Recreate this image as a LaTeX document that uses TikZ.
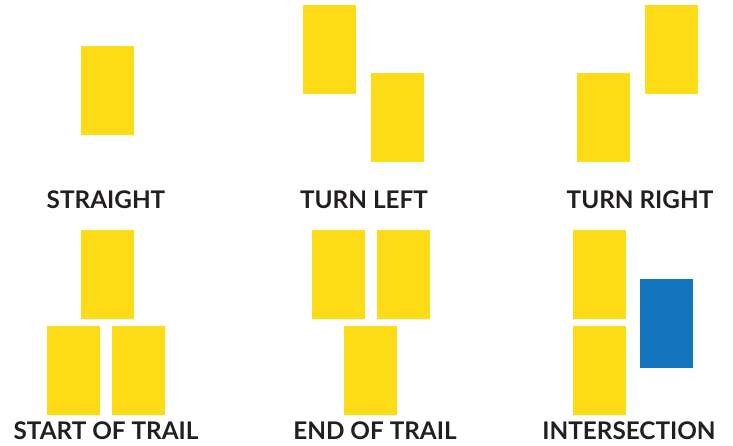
\documentclass[tikz,border=0pt]{standalone}
\usepackage{fontspec}
\setmainfont{Lato}
\definecolor{trailyellow}{HTML}{FDDC17}
\definecolor{trailblue}{HTML}{1174BC}
\definecolor{labelgray}{HTML}{231F20}
\tikzset{
  blaze/.style={fill=trailyellow},
  crossblaze/.style={fill=trailblue},
  signlabel/.style={anchor=base, inner sep=0pt, text=labelgray, font=\bfseries\fontsize{24.3}{24.3}\selectfont}
}
\begin{document}
\begin{tikzpicture}[x=1pt, y=-1pt]
 \useasboundingbox (0,0) rectangle (733,446);
 \def\bw{53}
 \def\bh{89}

 %row 1
 \def\dy{0};

 %straight
 \foreach \x/\y in {81/46} {
         \fill[blaze] (\x,\y + \dy) rectangle ++(\bw,\bh);
 }
 \node[signlabel] (Lstraight) at (106, 209 + \dy) {STRAIGHT};

 %turn left
 \foreach \x/\y in {303/5, 371/73} {
         \fill[blaze] (\x,\y + \dy) rectangle ++(\bw,\bh);
 }
 \node[signlabel] (Lleft) at (364, 209 + \dy) {TURN LEFT};

 %turn right
 \foreach \x/\y in {577/73, 645/5} {
         \fill[blaze] (\x,\y + \dy) rectangle ++(\bw,\bh);
 }
 \node[signlabel] (Lright) at (640, 209 + \dy) {TURN RIGHT};

 %row 2
 \def\dy{230};

 %start
 \foreach \x/\y in {81/0, 47/96, 112/96} {
         \fill[blaze] (\x,\y + \dy) rectangle ++(\bw,\bh);
 }
 \node[signlabel] (Lstart) at (106, 209 + \dy) {START OF TRAIL};

 %end
 \foreach \x/\y in {312/0, 377/0, 344/96} {
         \fill[blaze] (\x,\y + \dy) rectangle ++(\bw,\bh);
 }
 \node[signlabel] (Lend) at (375, 209 + \dy) {END OF TRAIL};

 %intersection
 \foreach \x/\y in {573/0, 573/96} {
         \fill[blaze] (\x,\y + \dy) rectangle ++(\bw,\bh);
 }
 \fill[crossblaze] (640, 49 + \dy) rectangle ++(\bw,\bh);
 \node[signlabel] (Lcross) at (629, 209 + \dy) {INTERSECTION};

\end{tikzpicture}
\end{document}
